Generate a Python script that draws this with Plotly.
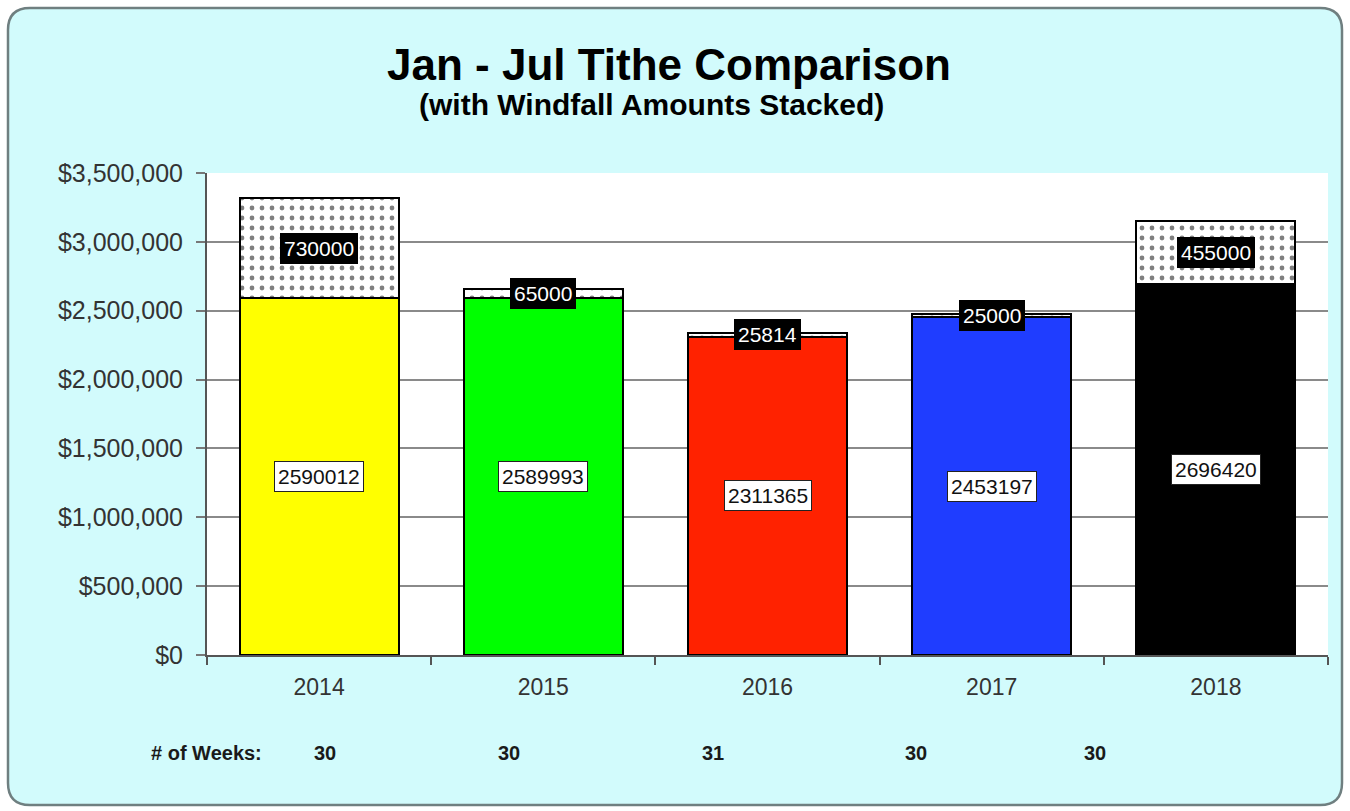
import plotly.graph_objects as go

years = ["2014", "2015", "2016", "2017", "2018"]
base_tithe = [2590012, 2589993, 2311365, 2453197, 2696420]
windfall = [730000, 65000, 25814, 25000, 455000]
weeks = [30, 30, 31, 30, 30]
bar_colors = ["#ffff00", "#00ff00", "#ff2200", "#1f3dff", "#000000"]

# layout geometry (pixels)
W, H = 1350, 811
L, R, T, B = 207, 22, 173, 156
pw, ph = W - L - R, H - T - B

def px_x(px):
    return (px - L) / pw

def px_y(py):
    return (H - B - py) / ph

FONT = "Liberation Sans, Arial"

fig = go.Figure()
fig.add_trace(go.Bar(
    x=years, y=base_tithe, name="Tithe",
    marker=dict(color=bar_colors, line=dict(color="black", width=2)),
    width=0.71, hoverinfo="y",
))
fig.add_trace(go.Bar(
    x=years, y=windfall, name="Windfall",
    marker=dict(color="white", line=dict(color="black", width=2),
                pattern=dict(shape=".", fgcolor="black", bgcolor="white", size=10, solidity=0.18)),
    width=0.71, hoverinfo="y",
))

annotations = []
for i, (b, w) in enumerate(zip(base_tithe, windfall)):
    annotations.append(dict(
        x=i, y=b / 2, text=str(b), showarrow=False, xref="x", yref="y",
        xanchor="center", yanchor="middle",
        font=dict(family=FONT, size=21, color="#111111"),
        bgcolor="white", bordercolor="#222222", borderwidth=1, borderpad=3,
    ))
    annotations.append(dict(
        x=i, y=b + w / 2, text=str(w), showarrow=False, xref="x", yref="y",
        xanchor="center", yanchor="middle",
        font=dict(family=FONT, size=21, color="white"),
        bgcolor="black", bordercolor="black", borderwidth=1, borderpad=3,
    ))

# title / subtitle
annotations.append(dict(x=px_x(669), y=px_y(65), xref="paper", yref="paper", showarrow=False,
                        xanchor="center", yanchor="middle",
                        text="<b>Jan - Jul Tithe Comparison</b>",
                        font=dict(family=FONT, size=44, color="black")))
annotations.append(dict(x=px_x(651), y=px_y(104), xref="paper", yref="paper", showarrow=False,
                        xanchor="center", yanchor="middle",
                        text="<b>(with Windfall Amounts Stacked)</b>",
                        font=dict(family=FONT, size=30, color="black")))

# weeks row
annotations.append(dict(x=px_x(206), y=px_y(753), xref="paper", yref="paper", showarrow=False,
                        xanchor="center", yanchor="middle",
                        text="<b># of Weeks:</b>",
                        font=dict(family=FONT, size=20, color="#1a1a1a")))
week_px = [325, 509, 713, 916, 1095]
for wk, xp in zip(weeks, week_px):
    annotations.append(dict(x=px_x(xp), y=px_y(753), xref="paper", yref="paper", showarrow=False,
                            xanchor="center", yanchor="middle",
                            text=f"<b>{wk}</b>",
                            font=dict(family=FONT, size=20, color="#1a1a1a")))

# outer rounded box
x0, x1 = px_x(8), px_x(1342)
y0, y1 = px_y(805), px_y(8)
rx = 22 / pw
ry = 22 / ph
path = (f"M {x0+rx},{y1} L {x1-rx},{y1} Q {x1},{y1} {x1},{y1-ry} "
        f"L {x1},{y0+ry} Q {x1},{y0} {x1-rx},{y0} L {x0+rx},{y0} Q {x0},{y0} {x0},{y0+ry} "
        f"L {x0},{y1-ry} Q {x0},{y1} {x0+rx},{y1} Z")
shapes = [
    dict(type="path", path=path, xref="paper", yref="paper", layer="below",
         fillcolor="#d2fbfc", line=dict(color="#6f7f80", width=2.5)),
    dict(type="rect", x0=0, x1=1, y0=0, y1=1, xref="paper", yref="paper", layer="below",
         fillcolor="white", line=dict(width=0)),
]

fig.update_layout(
    width=W, height=H,
    margin=dict(l=L, r=R, t=T, b=B),
    paper_bgcolor="white", plot_bgcolor="rgba(0,0,0,0)",
    barmode="stack", bargap=0.29, showlegend=False,
    annotations=annotations, shapes=shapes,
    font=dict(family=FONT, color="#333333"),
    xaxis=dict(type="category", range=[-0.5, 4.5], tickson="boundaries", ticks="outside", ticklen=8,
               tickcolor="#555555", tickwidth=2, showline=True, linecolor="#555555", linewidth=2,
               tickfont=dict(size=23, color="#333333"), showgrid=False, tickangle=0,
               ticklabelstandoff=10),
    yaxis=dict(range=[0, 3500000], dtick=500000, tickprefix="$", tickformat=",",
               ticks="outside", ticklen=9, tickcolor="#777777", tickwidth=2,
               showline=True, linecolor="#555555", linewidth=2,
               gridcolor="#8a8a8a", gridwidth=2, zeroline=False,
               tickfont=dict(size=25, color="#333333"), ticklabelstandoff=8),
)

fig.write_html("out.html", config={"displayModeBar": False},
               post_script="document.body.style.margin='0';document.body.style.overflow='hidden';")
